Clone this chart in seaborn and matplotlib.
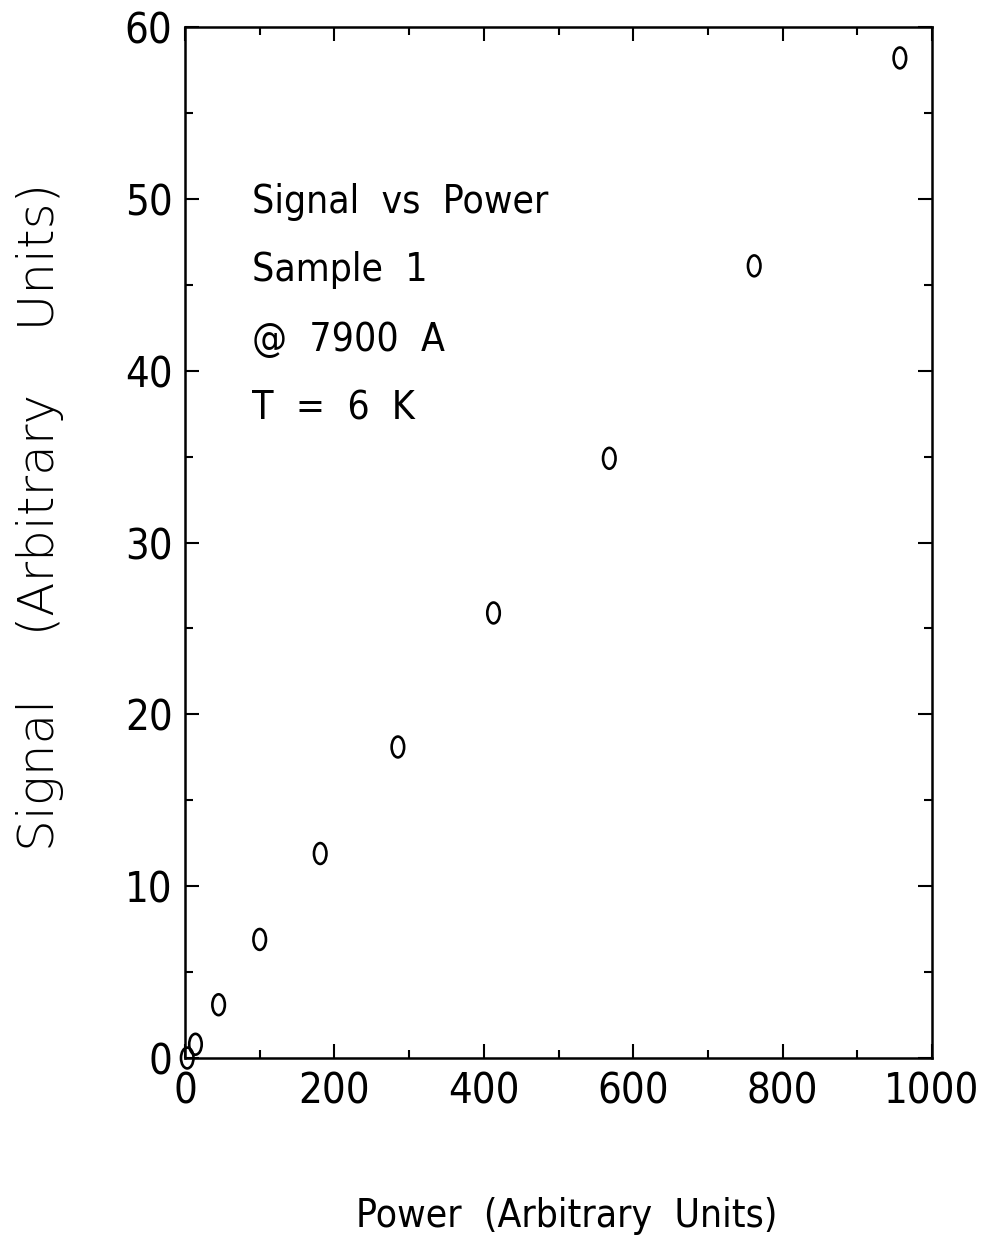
import numpy as np
import pandas as pd
import matplotlib
matplotlib.use("Agg")
import matplotlib.pyplot as plt
from matplotlib.path import Path
from matplotlib.ticker import MultipleLocator
import seaborn as sns

power = [3, 14, 45, 100, 181, 285, 413, 568, 762, 957]
signal = [0.0, 0.8, 3.1, 6.9, 11.9, 18.1, 25.9, 34.9, 46.1, 58.2]
x_ticks = [0, 200, 400, 600, 800, 1000]
y_ticks = [0, 10, 20, 30, 40, 50, 60]
notes = ["Signal  vs  Power", "Sample  1", "@  7900  A", "T  =  6  K"]

sns.set_theme(style="ticks")
plt.rcParams["font.family"] = ["DejaVu Sans"]

df = pd.DataFrame({"Power": power, "Signal": signal})

fig = plt.figure(figsize=(9.83, 12.46), dpi=100)
ax = fig.add_axes([185 / 983, (1246 - 1058) / 1246, 747 / 983, 1031 / 1246])

circ = Path.unit_circle()
ell = Path(circ.vertices * np.array([0.6, 1.0]), circ.codes)

sns.scatterplot(data=df, x="Power", y="Signal", ax=ax, marker=ell, s=15 ** 2,
                facecolors="none", edgecolor="black", linewidth=1.9, zorder=3,
                clip_on=False)

ax.set_xlim(0, 1000)
ax.set_ylim(0, 60)
ax.set_xticks(x_ticks)
ax.set_yticks(y_ticks)
ax.xaxis.set_minor_locator(MultipleLocator(100))
ax.yaxis.set_minor_locator(MultipleLocator(5))

ax.tick_params(which="both", direction="in", top=True, right=True, color="black",
               width=1.5, labelcolor="black")
ax.tick_params(which="major", length=10, labelsize=30, pad=9)
ax.tick_params(which="minor", length=6)
for lbl in ax.get_xticklabels() + ax.get_yticklabels():
    lbl.set_fontstretch("condensed")

for s in ax.spines.values():
    s.set_visible(True)
    s.set_linewidth(1.8)
    s.set_color("black")

ax.set_xlabel("Power  (Arbitrary  Units)", fontsize=28, fontstretch="condensed",
              color="black")
ax.xaxis.set_label_coords(0.511, -0.135)
ax.set_ylabel("Signal    (Arbitrary    Units)", fontsize=36, fontweight="light",
              color="black", va="center")
ax.yaxis.set_label_coords(-0.194, 0.525)

ys = [0.830, 0.764, 0.696, 0.630]
for t, yy in zip(notes, ys):
    ax.text(0.0897, yy, t, transform=ax.transAxes, fontsize=28, fontstretch="condensed",
            va="center", ha="left", color="black")

fig.savefig("out.png", dpi=100)
